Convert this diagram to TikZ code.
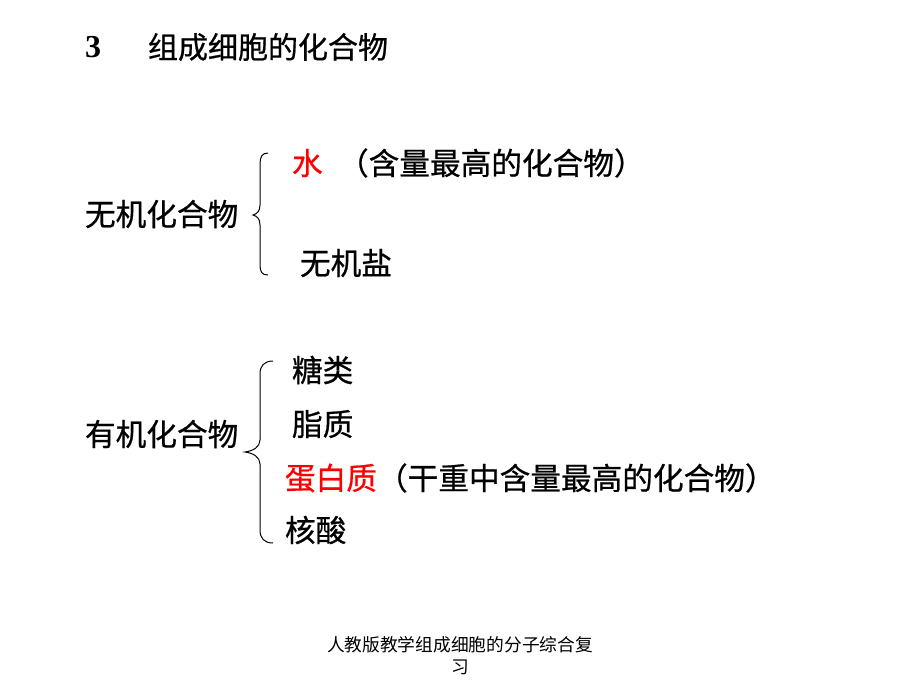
\documentclass[tikz,border=0pt]{standalone}
\usepackage{fontspec}
\setmainfont{Liberation Serif}
\newfontfamily\cjk[FakeBold=0.7]{Noto Sans CJK SC}
\newfontfamily\cjkfoot{Noto Sans CJK SC}
\definecolor{hired}{RGB}{255,0,0}
\begin{document}
\begin{tikzpicture}[x=0.75pt,y=-0.75pt,
  every node/.style={inner sep=0pt, outer sep=0pt},
  txt/.style={anchor=west, font=\cjk\fontsize{23}{23}\selectfont},
  foot/.style={font=\cjkfoot\fontsize{13.3}{13.3}\selectfont},
  bracepath/.style={draw=black, line width=0.75pt}]
\useasboundingbox[fill=white] (0,0) rectangle (920,690);
% title
\node[anchor=west, font=\bfseries\fontsize{24}{24}\selectfont] (num) at (85,47) {3};
\node[txt, font=\cjk\fontsize{22.5}{22.5}\selectfont] (title) at (148,47) {组成细胞的化合物};
% inorganic
\node[txt] (inorg) at (85,214) {无机化合物};
\node[txt, text=hired] (water) at (292,163) {水};
\node[txt] (waterc) at (338,163) {（含量最高的化合物）};
\node[txt] (salt) at (300,263) {无机盐};
\draw[bracepath] (268,153) .. controls (262,153) and (260,157) .. (260,164)
  -- (260,205) .. controls (260,211) and (257,214) .. (253,215)
  .. controls (257,216) and (260,219) .. (260,225)
  -- (260,265) .. controls (260,272) and (262,275) .. (268,275);
% organic
\node[txt] (org) at (85,434) {有机化合物};
\node[txt] (sugar) at (292,370) {糖类};
\node[txt] (lipid) at (292,424) {脂质};
\node[txt, text=hired] (prot) at (285,478) {蛋白质};
\node[txt] (protc) at (prot.east) {（干重中含量最高的化合物）};
\node[txt] (nucl) at (285,530) {核酸};
\draw[bracepath] (273,361) .. controls (264,361) and (260,366) .. (260,374)
  -- (260,440) .. controls (260,447) and (253,451) .. (245,452)
  .. controls (253,453) and (260,457) .. (260,464)
  -- (260,530) .. controls (260,538) and (264,543) .. (273,543);
% footer
\node[foot] (foot1) at (460,645) {人教版教学组成细胞的分子综合复};
\node[foot] (foot2) at (460,667) {习};
\end{tikzpicture}
\end{document}
